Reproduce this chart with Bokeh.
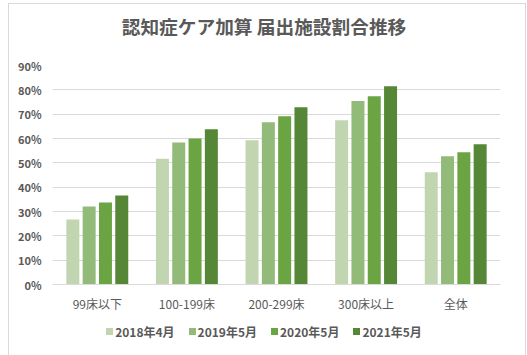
from bokeh.plotting import figure
from bokeh.layouts import column
from bokeh.models import ColumnDataSource, NumeralTickFormatter, FixedTicker, Div
from bokeh.transform import dodge
from bokeh.embed import file_html
from bokeh.resources import INLINE

title_text = "認知症ケア加算 届出施設割合推移"
categories = ["99床以下", "100-199床", "200-299床", "300床以上", "全体"]
series_names = ["2018年4月", "2019年5月", "2020年5月", "2021年5月"]
v2018 = [0.267, 0.517, 0.593, 0.675, 0.461]
v2019 = [0.321, 0.584, 0.667, 0.754, 0.527]
v2020 = [0.337, 0.600, 0.691, 0.774, 0.543]
v2021 = [0.366, 0.638, 0.728, 0.815, 0.576]
colors = ["#C1D6B0", "#92BA78", "#6AA443", "#568737"]
yticks = [0, 0.1, 0.2, 0.3, 0.4, 0.5, 0.6, 0.7, 0.8, 0.9]

src = ColumnDataSource(dict(cat=categories, s0=v2018, s1=v2019, s2=v2020, s3=v2021))

FONT = "Noto Sans CJK JP"

title_div = Div(text=('<div style="width:500px;text-align:center;font-family:\'%s\';font-size:18.7px;'
                      'font-weight:bold;color:#595959;line-height:24px;padding-top:5px;">%s</div>'
                      % (FONT, title_text)), width=506, height=37)

p = figure(x_range=categories, y_range=(0, 0.9), width=506, height=266,
           output_backend="svg", toolbar_location=None,
           min_border_left=43, min_border_right=15, min_border_top=14, min_border_bottom=33)

offsets = [-0.273, -0.091, 0.091, 0.273]
for i in range(4):
    p.vbar(x=dodge("cat", offsets[i], range=p.x_range), top="s%d" % i, width=0.145,
           source=src, fill_color=colors[i], line_color=None)

p.yaxis.ticker = FixedTicker(ticks=yticks)
p.yaxis.formatter = NumeralTickFormatter(format="0%")
p.yaxis.axis_line_color = None
p.yaxis.major_tick_line_color = None
p.yaxis.minor_tick_line_color = None
p.yaxis.major_label_text_font = FONT
p.yaxis.major_label_text_font_size = "11px"
p.yaxis.major_label_text_font_style = "bold"
p.yaxis.major_label_text_color = "#595959"

p.xaxis.axis_line_color = "#D9D9D9"
p.xaxis.major_tick_line_color = None
p.xaxis.minor_tick_line_color = None
p.xaxis.major_label_text_font = FONT
p.xaxis.major_label_text_font_size = "12px"
p.xaxis.major_label_text_color = "#595959"
p.xaxis.major_label_standoff = 4

p.xgrid.grid_line_color = None
p.ygrid.grid_line_color = "#D9D9D9"
p.outline_line_color = None

# legend strip (HTML)
parts = []
for name, c in zip(series_names, colors):
    parts.append(
        '<span style="display:inline-flex;align-items:center;margin:0 7px;">'
        '<span style="display:inline-block;width:7px;height:7px;background:%s;margin-right:2px;"></span>'
        '<span>%s</span></span>' % (c, name))
legend_html = ('<div style="width:500px;text-align:center;font-family:\'%s\';font-size:12px;'
               'font-weight:bold;color:#595959;line-height:16px;">%s</div>'
               % (FONT, "".join(parts)))
lg = Div(text=legend_html, width=506, height=35)

layout = column(title_div, p, lg, spacing=0,
                styles={"border": "1px solid #D9D9D9", "margin-left": "8px", "margin-top": "3px"})

open("out.html", "w").write(file_html(layout, INLINE))
